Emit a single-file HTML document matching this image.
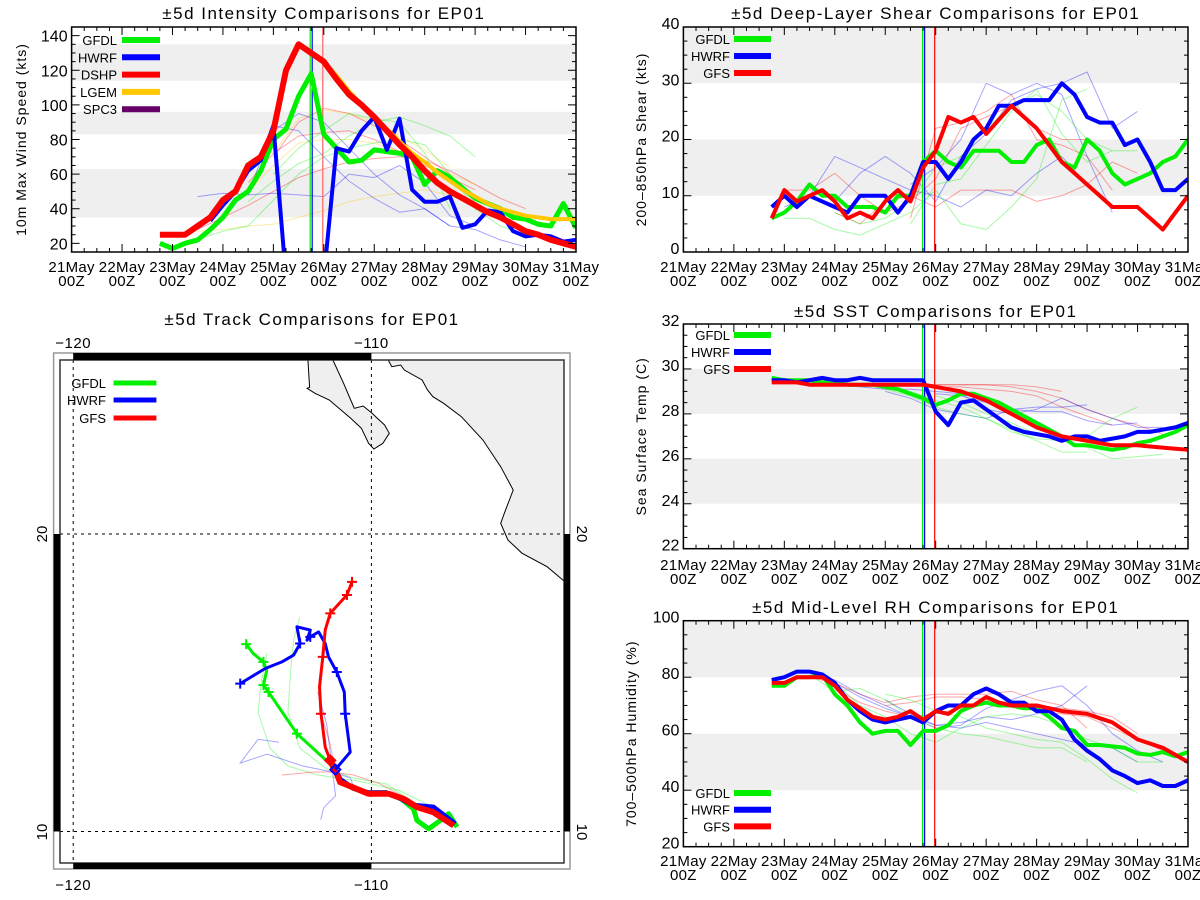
<!DOCTYPE html>
<html><head><meta charset="utf-8"><style>
html,body{margin:0;padding:0;background:#fff;}
svg{display:block;font-family:"Liberation Sans",sans-serif;}
</style></head><body>
<svg id="fig" width="1200" height="900" viewBox="0 0 1200 900"></svg>
<script>
// ---------- DATA ----------
const times=[1.75,2,2.25,2.5,2.75,3,3.25,3.5,3.75,4,4.25,4.5,4.75,5,5.25,5.5,5.75,6,6.25,6.5,6.75,7,7.25,7.5,7.75,8,8.25,8.5,8.75,9,9.25,9.5,9.75,10];
const dayLabels=["21May","22May","23May","24May","25May","26May","27May","28May","29May","30May","31May"];
// intensity (kts)
const intDSHP=[25,25,25,30,35,45,50,65,70,85,120,135,130,125,115,106,100,93,85,77,70,62,55,50,46,42,38,35,31,27,25,22,20,18];
const intGFDL=[20,17,20,22,28,35,45,50,62,80,86,105,118,83,75,67,68,74,73,72,70,54,62,58,52,46,43,40,35,34,31,30,43,29];
const intHWRF=[null,null,null,null,33,42,50,62,68,88,0,null,null,0,75,73,85,93,74,92,51,44,44,47,29,31,39,38,27,24,25,24,21,22];
const intLGEM=[null,null,null,null,null,null,null,null,null,null,null,null,null,125,117,108,100,93,86,79,72,67,61,56,51,47,43,40,38,36,35,34,34,34];
const faintIntT=[[3.5,4,4.5,5,5.5,6,6.5,7,7.5,8],[4,4.5,5,5.5,6,6.5,7,7.5],[2.5,3,3.5,4,4.5,5,5.5,6,6.5,7,7.5,8,8.5,9]];
const faintIntRed=[[55,72,82,84,85,80,73,65,58,51],[70,90,98,95,88,80,70,60],[28,35,42,50,58,63,67,69,70,68,62,54,46,40]];
const faintIntYel=[[50,65,78,80,80,78,73,66,60,54],[72,92,97,95,90,82,74,64],[27,28,30,31,35,39,44,47,49,51,48,42,38,36]];
const faintIntBlu=[[48,49,48,47,60,58,65,55,36,30],[85,95,90,75,60,48,40,30],[47,49,48,88,85,70,56,46,38,40,30,28,22,18]];
const faintIntGrn=[[44,56,66,72,82,90,93,88,82,70],[60,75,85,95,92,90,72,40],[22,27,30,45,60,70,75,78,80,77,60,40,30,25]];
// shear (kts)
const shrGFS=[6,11,9,10,11,9,6,7,6,9,11,9,15,18,24,23,24,21,23.5,26,24,22,19,16,14,12,10,8,8,8,6,4,7,10];
const shrHWRF=[8,10,8,10,9,8,7,10,10,10,7,10,16,16,13,16,20,22,26,26,27,27,27,30,28,24,23,23,19,20,16,11,11,13];
const shrGFDL=[6,7,9,12,10,10,8,8,8,7,10,10,16,18,16,15,18,18,18,16,16,19,20,16,15,20,18,14,12,13,14,16,17,20];
const faintShT=[[2,2.5,3,3.5,4,4.5,5,5.5,6,6.5,7,7.5,8],[3,3.5,4,4.5,5,5.5,6,6.5,7,7.5,8,8.5,9],[4.5,5,5.5,6,6.5,7,7.5,8,8.5]];
const faintShRed=[[11,11,14,10,7,9,13,22,24,26,22,20,20],[7,5,9,10,8,11,11,11,9,10,12,16,14],[6,22,23,25,28,20,19,17,11]];
const faintShBlu=[[8,10,17,15,13,11,10,8,11,10,14,17,12],[9,14,17,14,9,17,21,27,29,30,32,22,25],[12,15,20,30,28,30,28,17,7]];
const faintShGrn=[[6,6,4,3,5,7,11,5,4,8,13,27,29],[7,5,6,9,15,17,22,26,28,25,20,18,18],[5,12,13,19,25,29,21,16,18]];
// SST (C)
const sstHWRF=[29.5,29.5,29.4,29.5,29.6,29.5,29.5,29.6,29.5,29.5,29.5,29.5,29.5,28.1,27.5,28.5,28.6,28.2,27.8,27.4,27.2,27.1,27.0,26.8,27.0,27.0,26.8,26.9,27.0,27.2,27.2,27.3,27.4,27.6];
const sstGFDL=[29.6,29.5,29.5,29.5,29.4,29.4,29.3,29.3,29.3,29.2,29.1,28.9,28.7,28.4,28.6,28.9,28.9,28.7,28.5,28.2,27.9,27.6,27.3,27.0,26.6,26.6,26.5,26.4,26.5,26.7,26.8,27.0,27.2,27.5];
const sstGFS=[29.4,29.4,29.4,29.3,29.3,29.3,29.3,29.3,29.3,29.3,29.3,29.3,29.3,29.2,29.1,29.0,28.8,28.6,28.3,28.0,27.7,27.4,27.2,27.0,26.9,26.8,26.7,26.6,26.6,26.6,26.55,26.5,26.45,26.4];
const faintSstT=[[3,3.5,4,4.5,5,5.5,6,6.5,7,7.5,8,8.5,9,9.5],[4,4.5,5,5.5,6,6.5,7,7.5,8,8.5],[5,5.5,6,6.5,7,7.5,8,8.5,9]];
const faintSstRed=[[29.3,29.3,29.3,29.3,29.3,29.3,29.3,29.2,29.0,28.7,28.2,27.8,27.5,27.1],[29.3,29.3,29.3,29.3,29.3,29.3,29.2,29.0],[29.2,29.2,29.1,29.0,28.8,28.3,27.9,27.5]];
const faintSstBlu=[[29.3,29.2,29.1,29.1,29.0,28.9,28.2,28.0,28.2,28.7,28.2,27.8,27.4,27.4],[29.0,28.7,28.2,28.0,27.8,28.2,28.3,28.3,28.4],[28.9,28.8,28.5,28.2,28.1,28.1,27.7,27.5,27.6]];
const faintSstGrn=[[29.4,29.3,29.2,29.0,28.6,28.3,27.8,27.2,26.9,26.8,26.5,26.0,26.1,26.2],[29.1,28.8,28.3,28.0,27.8,27.3,26.8,26.3,26.3],[28.8,28.5,28.0,27.6,27.1,26.8,27.0,27.8,28.3]];
// RH (%)
const rhHWRF=[79,80,82,82,81,78,72,68,65,64,65,66,64,68,70,70,74,76,74,71,71,68,68,65,58,54,51,47,45,42.5,43.5,41.5,41.5,43.5];
const rhGFDL=[77,77,80,80,81,74,70,64,60,61,61,56,61,61,63,68,70,71,70,70,69,69,66,62,61,56,56,55.5,55,53,52.5,53.5,52,53.5];
const rhGFS=[78,78,80,80,80,77,72,69,66,65,66,68,65,68,67,70,70,73,71,70,70,70,69,68,67.5,67,65.5,64,61,58,56.5,55,52.5,50];
const faintRhT=[[2.5,3,3.5,4,4.5,5,5.5,6,6.5,7,7.5,8],[3,3.5,4,4.5,5,5.5,6,6.5,7,7.5,8,8.5,9,9.5],[4,4.5,5,5.5,6,6.5,7,7.5,8,8.5,9]];
const faintRhRed=[[80,78,74,71,73,74,74,74,75,72,70,62],[76,71,68,66,67,69,71,70,68,67,66,62,58,54],[70,71,73,73,72,70,70,69,68,66,60]];
const faintRhBlu=[[82,79,74,70,66,63,64,66,65,67,70,77],[78,73,69,66,62,63,69,72,75,77,70,60,54,50],[72,67,63,62,64,62,60,58,56,55,50]];
const faintRhGrn=[[81,75,76,72,66,62,60,59,57,55,55,50],[78,70,66,60,57,62,66,67,66,63,58,55,50,50],[74,72,68,66,62,60,58,57,51,44,39]];
// tracks (lon, lat)
const gfsLonF=[-110.65,-110.82,-111.38,-111.55,-111.63,-111.74,-111.69,-111.55,-111.38];
const gfsLatF=[18.39,17.95,17.33,16.77,15.87,14.86,13.96,12.84,12.39];
const gfsLonP=[-111.38,-111.16,-111.05,-110.10,-109.43,-108.92,-108.47,-107.92,-107.24];
const gfsLatP=[12.39,11.94,11.66,11.27,11.27,11.10,10.82,10.65,10.20];
const hwrfLon=[-111.21,-110.71,-110.88,-110.91,-111.16,-111.44,-111.55,-111.77,-112.05,-112.16,-112.05,-112.50,-112.39,-112.61,-113.00,-113.56,-114.40];
const hwrfLat=[12.08,12.67,13.96,14.69,15.36,15.87,16.32,16.71,16.54,16.43,16.77,16.88,16.32,15.93,15.70,15.48,14.97];
const hwrfLonP=[-107.19,-107.92,-108.59,-109.0,-109.5,-110.1,-110.6,-111.05,-111.21];
const hwrfLatP=[10.26,10.82,10.88,11.1,11.3,11.3,11.45,11.75,12.08];
const gfdlLon=[-111.33,-112.50,-113.45,-113.62,-113.51,-113.62,-113.96,-114.20];
const gfdlLat=[12.22,13.29,14.69,14.92,15.42,15.70,15.98,16.30];
const gfdlLonP=[-107.13,-107.41,-107.69,-108.08,-108.47,-108.59,-109.0,-109.5,-110.1,-110.6,-111.05,-111.33];
const gfdlLatP=[10.15,10.60,10.37,10.09,10.37,10.76,11.1,11.3,11.3,11.45,11.75,12.22];
const gfsCrossIdx=[0,1,2,4,6], hwrfCrossIdx=[2,4,8,12,16], gfdlCrossIdx=[1,2,3,5,7];

// ---------- RENDER ----------
const NS="http://www.w3.org/2000/svg";
const svg=document.getElementById('fig');
function el(tag,attrs,parent){const e=document.createElementNS(NS,tag);for(const k in attrs)e.setAttribute(k,attrs[k]);(parent||svg).appendChild(e);return e;}
const GREEN="#00f000",BLUE="#0000ff",RED="#ff0000",YEL="#ffc800",PURP="#660066";

function panel(c){
  const g=el('g',{});
  
  
  const xs=d=>c.x0+d*(c.x1-c.x0)/10;
  const ys=v=>c.y1-(v-c.ymin)*(c.y1-c.y0)/(c.ymax-c.ymin);
  const cid='clip-'+c.name;
  const cp=el('clipPath',{id:cid},g);el('rect',{x:c.x0,y:c.y0,width:c.x1-c.x0,height:c.y1-c.y0},cp);
  c.bands.forEach(b=>{const r=el('rect',{x:c.x0,y:ys(b[1]),width:c.x1-c.x0,height:ys(b[0])-ys(b[1]),fill:'#efefef'},g);
    });
  const pg=el('g',{'clip-path':'url(#'+cid+')'},g);
  function line(ts,vs,col,w,op,nm){
    let segs=[],cur=[];
    ts.forEach((t,i)=>{if(vs[i]===null||vs[i]===undefined){if(cur.length)segs.push(cur);cur=[];}else cur.push(xs(t).toFixed(1)+','+ys(vs[i]).toFixed(1));});
    if(cur.length)segs.push(cur);
    segs.forEach(s=>{const p=el('polyline',{points:s.join(' '),fill:'none',stroke:col,'stroke-width':w,'stroke-opacity':op,'stroke-linejoin':'round'},pg);
      });
  }
  c.faint.forEach(f=>f.vals.forEach((vs,i)=>line(f.t[i],vs,f.col,1,0.35,'faint-'+f.nm)));
  c.vlines.forEach(v=>{const l=el('line',{x1:xs(v[0]),x2:xs(v[0]),y1:c.y0,y2:c.y1,stroke:v[1],'stroke-width':1.2},pg);
    });
  c.series.forEach(s=>line(times,s.v,s.col,s.w,1,s.nm+'-line'));
  el('rect',{x:c.x0,y:c.y0,width:c.x1-c.x0,height:c.y1-c.y0,fill:'none',stroke:'#000','stroke-width':1.5},g);
  for(let k=0;k<=40;k++){const d=k/4,x=xs(d),L=(k%4===0)?8:4;
    el('line',{x1:x,x2:x,y1:c.y1,y2:c.y1-L,stroke:'#000'},g);el('line',{x1:x,x2:x,y1:c.y0,y2:c.y0+L,stroke:'#000'},g);}
  dayLabels.forEach((lb,i)=>{const t=el('text',{x:xs(i),y:c.lab1,'text-anchor':'middle','font-size':15,'letter-spacing':'0.3'},g);t.textContent=lb;
    
    const t2=el('text',{x:xs(i),y:c.lab1+14,'text-anchor':'middle','font-size':15,'letter-spacing':'0.3'},g);t2.textContent='00Z';
    });
  for(let v=c.ymin;v<=c.ymax+1e-6;v+=c.minor){const y=ys(v);if(y<c.y0-0.5)continue;
    const maj=Math.abs((v-c.firstMajor)/c.major-Math.round((v-c.firstMajor)/c.major))<1e-6&&v>=c.firstMajor;
    const L=maj?8:4;
    el('line',{x1:c.x0,x2:c.x0+L,y1:y,y2:y,stroke:'#000'},g);el('line',{x1:c.x1,x2:c.x1-L,y1:y,y2:y,stroke:'#000'},g);
    if(maj){const t=el('text',{x:c.x0-4,y:y+c.labOff,'text-anchor':'end','font-size':16},g);t.textContent=String(Math.round(v));
      }}
  const tt=el('text',{x:(c.x0+c.x1)/2,y:c.ty,'text-anchor':'middle','font-size':17,'letter-spacing':'1.5'},g);tt.textContent=c.title;
  
  const yt=el('text',{x:c.ylx,y:(c.y0+c.y1)/2,'text-anchor':'middle','font-size':14,'letter-spacing':'1',transform:'rotate(-90 '+c.ylx+' '+(c.y0+c.y1)/2+')'},g);yt.textContent=c.ylabel;
  
  c.legend.forEach((e,i)=>{const y=c.legY+i*c.legDy;
    const lg=el('g',{},g);
    const t=el('text',{x:c.legTx,y:y+5,'text-anchor':'end','font-size':13},lg);t.textContent=e[0];
    el('line',{x1:c.legL0,x2:c.legL1,y1:y,y2:y,stroke:e[1],'stroke-width':6},lg);});
}

panel({name:'intensity-panel',x0:71.6,x1:576,y0:27,y1:252,ymin:15,ymax:145,major:20,minor:5,firstMajor:20,labOff:6,
 bands:[[35,63],[83,96],[114,135]],title:'±5d Intensity Comparisons for EP01',ty:19,ylabel:'10m Max Wind Speed (kts)',ylx:26,lab1:272,
 vlines:[[4.73,GREEN],[4.77,BLUE],[4.98,'#ff6060']],
 faint:[{nm:'dshp',t:faintIntT,vals:faintIntRed,col:RED},{nm:'lgem',t:faintIntT,vals:faintIntYel,col:YEL},{nm:'hwrf',t:faintIntT,vals:faintIntBlu,col:BLUE},{nm:'gfdl',t:faintIntT,vals:faintIntGrn,col:GREEN}],
 series:[{nm:'gfdl',v:intGFDL,col:GREEN,w:5},{nm:'hwrf',v:intHWRF,col:BLUE,w:4},{nm:'lgem',v:intLGEM,col:YEL,w:4},{nm:'dshp',v:intDSHP,col:RED,w:6}],
 legend:[['GFDL',GREEN],['HWRF',BLUE],['DSHP',RED],['LGEM',YEL],['SPC3',PURP]],legY:40,legDy:17.3,legTx:117,legL0:122,legL1:160});

const shortLeg=[['GFDL',GREEN],['HWRF',BLUE],['GFS',RED]];
panel({name:'shear-panel',x0:683.4,x1:1188,y0:27,y1:252,ymin:0,ymax:40,major:10,minor:2.5,firstMajor:0,labOff:2,
 bands:[[10,20],[30,40]],title:'±5d Deep-Layer Shear Comparisons for EP01',ty:19,ylabel:'200–850hPa Shear (kts)',ylx:646,lab1:272,
 vlines:[[4.74,GREEN],[4.78,BLUE],[4.98,RED]],
 faint:[{nm:'gfs',t:faintShT,vals:faintShRed,col:RED},{nm:'hwrf',t:faintShT,vals:faintShBlu,col:BLUE},{nm:'gfdl',t:faintShT,vals:faintShGrn,col:GREEN}],
 series:[{nm:'gfdl',v:shrGFDL,col:GREEN,w:4},{nm:'hwrf',v:shrHWRF,col:BLUE,w:4},{nm:'gfs',v:shrGFS,col:RED,w:4}],
 legend:shortLeg,legY:39,legDy:17,legTx:730,legL0:734,legL1:771});

panel({name:'sst-panel',x0:683.4,x1:1188,y0:324,y1:548.7,ymin:22,ymax:32,major:2,minor:0.5,firstMajor:22,labOff:2,
 bands:[[24,26],[28,30]],title:'±5d SST Comparisons for EP01',ty:317,ylabel:'Sea Surface Temp (C)',ylx:646,lab1:570,
 vlines:[[4.74,GREEN],[4.78,BLUE],[4.98,RED]],
 faint:[{nm:'gfs',t:faintSstT,vals:faintSstRed,col:RED},{nm:'hwrf',t:faintSstT,vals:faintSstBlu,col:BLUE},{nm:'gfdl',t:faintSstT,vals:faintSstGrn,col:GREEN}],
 series:[{nm:'gfdl',v:sstGFDL,col:GREEN,w:4},{nm:'hwrf',v:sstHWRF,col:BLUE,w:4},{nm:'gfs',v:sstGFS,col:RED,w:4}],
 legend:shortLeg,legY:335,legDy:17,legTx:730,legL0:734,legL1:771});

panel({name:'rh-panel',x0:683.4,x1:1188,y0:620.7,y1:846.7,ymin:20,ymax:100,major:20,minor:5,firstMajor:20,labOff:2,
 bands:[[40,60],[80,100]],title:'±5d Mid-Level RH Comparisons for EP01',ty:613,ylabel:'700–500hPa Humidity (%)',ylx:636,lab1:866,
 vlines:[[4.74,GREEN],[4.78,BLUE],[4.98,RED]],
 faint:[{nm:'gfs',t:faintRhT,vals:faintRhRed,col:RED},{nm:'hwrf',t:faintRhT,vals:faintRhBlu,col:BLUE},{nm:'gfdl',t:faintRhT,vals:faintRhGrn,col:GREEN}],
 series:[{nm:'gfdl',v:rhGFDL,col:GREEN,w:4},{nm:'hwrf',v:rhHWRF,col:BLUE,w:4},{nm:'gfs',v:rhGFS,col:RED,w:4}],
 legend:shortLeg,legY:793,legDy:16.7,legTx:730,legL0:734,legL1:771});

// ---------- MAP ----------
(function(){
  const g=el('g',{});
  const lx=lon=>73.2+(lon+120)*29.82, ly=lat=>534-(lat-20)*29.75;
  const t=el('text',{x:312,y:325,'text-anchor':'middle','font-size':17,'letter-spacing':'1.5'},g);t.textContent='±5d Track Comparisons for EP01';
  
  const cp=el('clipPath',{id:'mapclip'},g);el('rect',{x:60,y:360,width:504,height:503},cp);
  const mg=el('g',{'clip-path':'url(#mapclip)'},g);
  const baja=[[307.9,360],[309.6,387.3],[307.1,388.3],[315,393.3],[329.3,400],[350.7,418.3],[361.4,428.3],[368.6,443.3],[373.9,449],[382.9,443.3],[389.3,433.3],[384.6,425],[375.7,416.7],[372.1,413.3],[363.2,406],[354.3,408.3],[350.7,400],[343.6,383.3],[332.9,360]];
  const main=[[388.2,360],[391.8,366.7],[400.7,365],[404.3,370],[422.1,380],[427.5,390],[432.9,396.7],[443.6,403.3],[461.4,416.7],[482.9,440],[500.7,466.7],[513.2,490],[504.3,513.3],[500.7,523.3],[507.9,540],[522.1,553.3],[547.1,566.7],[564,581],[564,360]];
  [[baja,'baja-california'],[main,'mexico-coast']].forEach(([p,n])=>{const e=el('polygon',{points:p.map(q=>q.join(',')).join(' '),fill:'#efefef',stroke:'#000','stroke-width':1},mg);
    });
  [73.2,371.4].forEach(x=>el('line',{x1:x,x2:x,y1:360,y2:863,stroke:'#000','stroke-dasharray':'3,4'},mg));
  [534,831.5].forEach(y=>el('line',{x1:60,x2:564,y1:y,y2:y,stroke:'#000','stroke-dasharray':'3,4'},mg));
  const fT=[[[-112.4,-112.6,-112.7,-112.8,-112.4,-111.5,-110.6,-109.5,-108.6],[17.2,16.5,15.5,14.0,12.8,12.1,11.8,11.6,11.0],GREEN],
    [[-113.5,-113.7,-113.8,-113.4,-112.8,-111.8,-110.5,-109.1,-108.1],[16.0,15.0,14.0,12.8,12.2,11.9,11.7,11.4,10.9],GREEN],
    [[-113.1,-113.8,-114.4,-113.5,-112.3,-111.3,-110.7,-110.6],[13.0,13.1,12.3,12.6,12.2,12.0,11.8,11.5],BLUE],
    [[-111.8,-111.5,-111.4,-111.3,-111.2,-111.6,-111.7],[14.7,13.6,12.8,12.0,11.2,10.8,10.4],BLUE],
    [[-113.0,-111.9,-111.4,-110.6,-109.7,-108.6],[11.9,12.0,12.0,11.9,11.6,11.0],RED],
    [[-111.7,-111.7,-111.4,-111.2],[15.0,14.0,13.0,12.0],RED]];
  fT.forEach(f=>{const p=el('polyline',{points:f[0].map((lo,i)=>lx(lo).toFixed(1)+','+ly(f[1][i]).toFixed(1)).join(' '),fill:'none',stroke:f[2],'stroke-width':1,'stroke-opacity':0.35},mg);
    });
  function trk(lons,lats,col,w,nm){const p=el('polyline',{points:lons.map((lo,i)=>lx(lo).toFixed(1)+','+ly(lats[i]).toFixed(1)).join(' '),fill:'none',stroke:col,'stroke-width':w,'stroke-linejoin':'round'},mg);
    }
  function crosses(lons,lats,idx,col){idx.forEach(i=>{const x=lx(lons[i]),y=ly(lats[i]);
    el('path',{d:`M${x-5},${y}H${x+5}M${x},${y-5}V${y+5}`,stroke:col,'stroke-width':2},mg);});}
  trk(gfdlLonP,gfdlLatP,GREEN,5,'gfdl-past-track');
  trk(hwrfLonP,hwrfLatP,BLUE,5,'hwrf-past-track');
  trk(gfsLonP,gfsLatP,RED,6,'gfs-past-track');
  trk(gfdlLon,gfdlLat,GREEN,3,'gfdl-track');crosses(gfdlLon,gfdlLat,gfdlCrossIdx,GREEN);
  trk(hwrfLon,hwrfLat,BLUE,3,'hwrf-track');crosses(hwrfLon,hwrfLat,hwrfCrossIdx,BLUE);
  trk(gfsLonF,gfsLatF,RED,3,'gfs-track');crosses(gfsLonF,gfsLatF,gfsCrossIdx,RED);
  [[gfsLonF[8],gfsLatF[8],RED],[hwrfLon[0],hwrfLat[0],BLUE]].forEach(d=>{const x=lx(d[0]),y=ly(d[1]);
    el('polygon',{points:`${x},${y-5} ${x+5},${y} ${x},${y+5} ${x-5},${y}`,fill:d[2]===RED?RED:'none',stroke:d[2],'stroke-width':2},mg);});
  el('rect',{x:53.6,y:353,width:516.4,height:516,fill:'none',stroke:'#999','stroke-width':1.5},g);
  el('rect',{x:60,y:360,width:504,height:503,fill:'none',stroke:'#333','stroke-width':1.5},g);
  [[73.2,353,298.2,7],[73.2,863,298.2,6],[53.6,534,6.4,297.5],[564,534,6,297.5]].forEach(r=>{const b=el('rect',{x:r[0],y:r[1],width:r[2],height:r[3],fill:'#000'},g);
    });
  [['−120',73.2,348],['−110',371.4,348],['−120',73.2,890],['−110',371.4,890]].forEach(l=>{const e=el('text',{x:l[1],y:l[2],'text-anchor':'middle','font-size':15,'letter-spacing':'0.5'},g);e.textContent=l[0];
    });
  [['20',534],['10',832]].forEach(l=>{
    const a=el('text',{x:47,y:l[1],'text-anchor':'middle','font-size':15,transform:`rotate(-90 47 ${l[1]})`},g);a.textContent=l[0];
    
    const b=el('text',{x:577,y:l[1],'text-anchor':'middle','font-size':15,transform:`rotate(90 577 ${l[1]})`},g);b.textContent=l[0];
    });
  [['GFDL',GREEN,383],['HWRF',BLUE,400],['GFS',RED,418]].forEach(e=>{const lg=el('g',{},g);
    
    const t=el('text',{x:106,y:e[2]+5,'text-anchor':'end','font-size':13},lg);t.textContent=e[0];
    el('line',{x1:113.6,x2:156.4,y1:e[2],y2:e[2],stroke:e[1],'stroke-width':5},lg);});
})();
</script>
</body></html>
